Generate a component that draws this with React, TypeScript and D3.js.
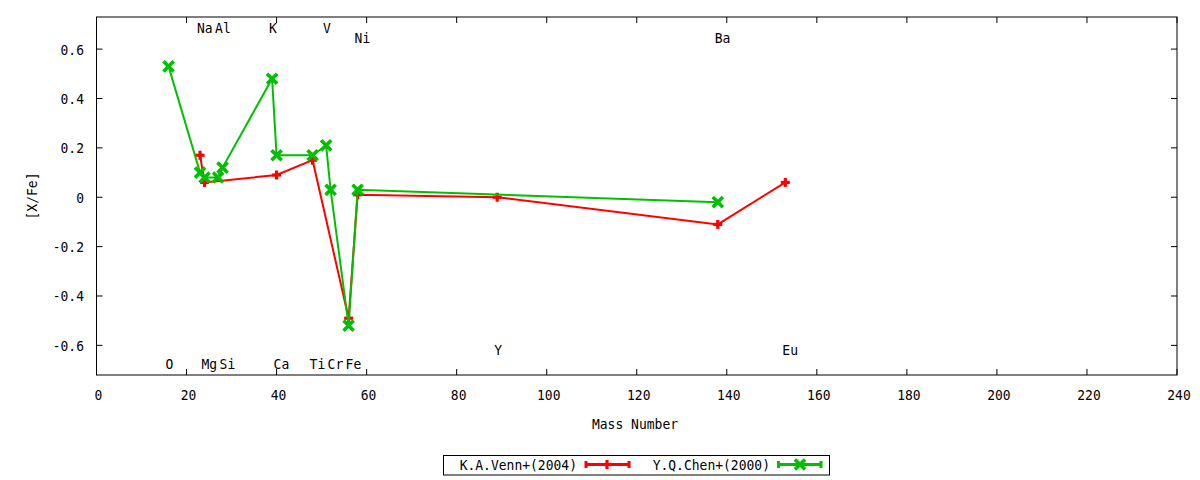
import React from "react";
import * as d3 from "d3";

// Data: K.A.Venn+(2004)
const vennMass = [23, 24, 40, 48, 56, 58, 89, 138, 153];
const vennVal = [0.17, 0.06, 0.09, 0.15, -0.49, 0.01, 0.0, -0.11, 0.06];

// Data: Y.Q.Chen+(2000)
const chenMass = [16, 23, 24, 27, 28, 39, 40, 48, 51, 52, 56, 58, 138];
const chenVal = [0.53, 0.1, 0.08, 0.08, 0.12, 0.48, 0.17, 0.17, 0.21, 0.03, -0.52, 0.03, -0.02];

// Element labels (name, mass, row)
const elemNames = ["Na", "Al", "K", "V", "Ni", "Ba", "Y", "Eu", "O", "Mg", "Si", "Ca", "Ti", "Cr", "Fe"];
const elemMass = [23, 27, 39, 51, 58, 138, 89, 153, 16, 24, 28, 40, 48, 52, 56];
const elemRow = [0, 0, 0, 0, 1, 1, 2, 2, 3, 3, 3, 3, 3, 3, 3];
const rowValues = [0.686, 0.646, -0.617, -0.674];

const xTicks = d3.range(0, 241, 20);
const yTicks = [-0.6, -0.4, -0.2, 0, 0.2, 0.4, 0.6];

const seriesNames = ["K.A.Venn+(2004)", "Y.Q.Chen+(2000)"];
const RED = "#ff0000";
const GREEN = "#00c000";
const FONT = "'DejaVu Sans Mono', monospace";
const SY = 1.12;

const L = 96.5, R = 1177, T = 17, B = 375;

function Txt({
  x,
  y,
  anchor = "start",
  rotate = 0,
  children,
}: {
  x: number;
  y: number;
  anchor?: string;
  rotate?: number;
  children: React.ReactNode;
}) {
  return (
    <text
      transform={`translate(${x},${y})${rotate ? ` rotate(${rotate})` : ""} scale(1,${SY})`}
      textAnchor={anchor}
      fill="#000"
    >
      {children}
    </text>
  );
}

function Plus({ x, y, color }: { x: number; y: number; color: string }) {
  const s = 4.5;
  return (
    <g stroke={color} strokeWidth={3.2}>
      <line x1={x - s} y1={y} x2={x + s} y2={y} />
      <line x1={x} y1={y - s} x2={x} y2={y + s} />
    </g>
  );
}

function Cross({ x, y, color }: { x: number; y: number; color: string }) {
  const s = 3.8;
  return (
    <g stroke={color} strokeWidth={3.6} strokeLinecap="square">
      <line x1={x - s} y1={y - s} x2={x + s} y2={y + s} />
      <line x1={x - s} y1={y + s} x2={x + s} y2={y - s} />
    </g>
  );
}

export default function App() {
  const x = d3.scaleLinear().domain([0, 240]).range([L, R]);
  const y = d3.scaleLinear().domain([-0.72, 0.73]).range([B, T]);
  const line = d3
    .line<[number, number]>()
    .x((d) => x(d[0]))
    .y((d) => y(d[1]));
  const venn: [number, number][] = vennMass.map((m, i) => [m, vennVal[i]]);
  const chen: [number, number][] = chenMass.map((m, i) => [m, chenVal[i]]);
  const fmt = (v: number) => (Math.abs(v) < 1e-9 ? "0" : String(Math.round(v * 10) / 10));

  const legendY = 464.5;
  return (
    <svg
      width={1200}
      height={480}
      style={{ position: "absolute", left: 0, top: 0, background: "#fff" }}
      fontFamily={FONT}
      fontSize={13}
    >
      <rect x={0} y={0} width={1200} height={480} fill="#fff" />
      {/* ticks */}
      <g stroke="#000" strokeWidth={1}>
        {xTicks.map((t) => (
          <g key={"xt" + t}>
            <line x1={x(t)} x2={x(t)} y1={B} y2={B - 6} />
            <line x1={x(t)} x2={x(t)} y1={T} y2={T + 6} />
          </g>
        ))}
        {yTicks.map((t) => (
          <g key={"yt" + t}>
            <line x1={L} x2={L + 6} y1={y(t)} y2={y(t)} />
            <line x1={R} x2={R - 6} y1={y(t)} y2={y(t)} />
          </g>
        ))}
      </g>
      {xTicks.map((t) => (
        <Txt key={"xl" + t} x={x(t) + 2} y={400} anchor="middle">
          {fmt(t)}
        </Txt>
      ))}
      {yTicks.map((t) => (
        <Txt key={"yl" + t} x={84} y={y(t) + 5.5} anchor="end">
          {fmt(t)}
        </Txt>
      ))}
      <Txt x={635} y={429} anchor="middle">
        Mass Number
      </Txt>
      <Txt x={37} y={(T + B) / 2} anchor="middle" rotate={-90}>
        [X/Fe]
      </Txt>
      {/* element labels */}
      {elemNames.map((n, i) => (
        <Txt key={"el" + n} x={x(elemMass[i]) - 3} y={y(rowValues[elemRow[i]]) + 5.5}>
          {n}
        </Txt>
      ))}
      {/* series */}
      <path d={line(venn) || ""} fill="none" stroke={RED} strokeWidth={2} />
      {venn.map((d, i) => (
        <Plus key={"vp" + i} x={x(d[0])} y={y(d[1])} color={RED} />
      ))}
      <path d={line(chen) || ""} fill="none" stroke={GREEN} strokeWidth={2} />
      {chen.map((d, i) => (
        <Cross key={"cp" + i} x={x(d[0])} y={y(d[1])} color={GREEN} />
      ))}
      {/* border */}
      <rect x={L} y={T} width={R - L} height={B - T} fill="none" stroke="#000" strokeWidth={1} />
      {/* legend */}
      <rect x={443.5} y={455.5} width={386} height={19.5} fill="none" stroke="#000" strokeWidth={1} />
      <Txt x={577} y={legendY + 5.5} anchor="end">
        {seriesNames[0]}
      </Txt>
      <g stroke={RED} strokeWidth={3}>
        <line x1={586} x2={629} y1={legendY} y2={legendY} />
        <line x1={586} x2={586} y1={legendY - 3.5} y2={legendY + 3.5} />
        <line x1={629} x2={629} y1={legendY - 3.5} y2={legendY + 3.5} />
      </g>
      <Plus x={607} y={legendY} color={RED} />
      <Txt x={770} y={legendY + 5.5} anchor="end">
        {seriesNames[1]}
      </Txt>
      <g stroke={GREEN} strokeWidth={3}>
        <line x1={778.5} x2={821} y1={legendY} y2={legendY} />
        <line x1={778.5} x2={778.5} y1={legendY - 3.5} y2={legendY + 3.5} />
        <line x1={821} x2={821} y1={legendY - 3.5} y2={legendY + 3.5} />
      </g>
      <Cross x={800} y={legendY} color={GREEN} />
    </svg>
  );
}
